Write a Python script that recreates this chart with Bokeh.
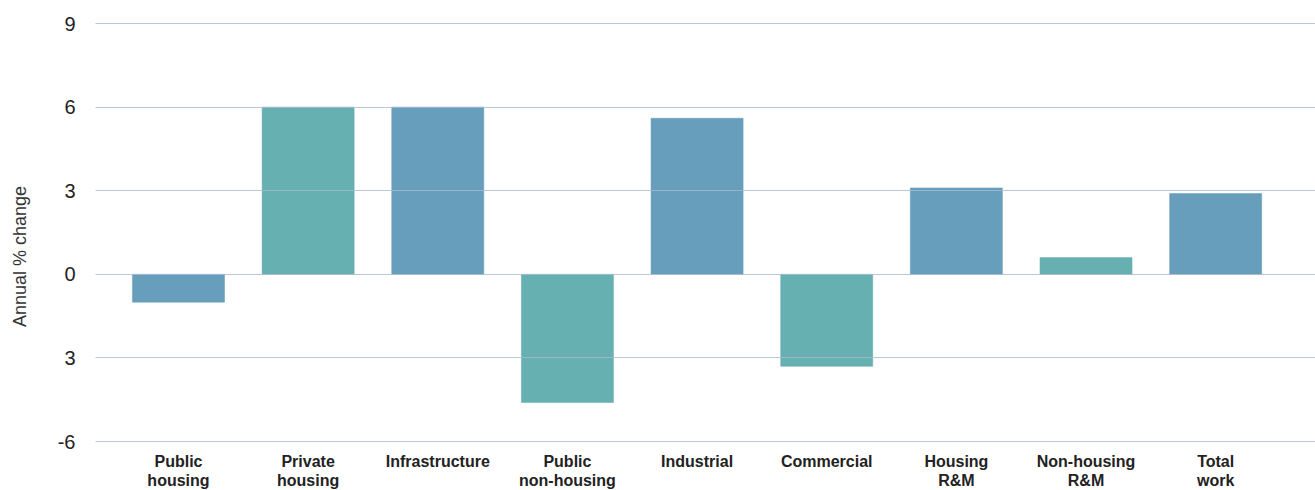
from bokeh.plotting import figure
from bokeh.models import Range1d, FixedTicker, ColumnDataSource, Label
from bokeh.embed import file_html
from bokeh.resources import INLINE

categories = ["Public\nhousing", "Private\nhousing", "Infrastructure", "Public\nnon-housing",
              "Industrial", "Commercial", "Housing\nR&M", "Non-housing\nR&M", "Total\nwork"]
values = [-1.0, 6.0, 6.0, -4.6, 5.6, -3.3, 3.1, 0.6, 2.9]
colors = ["#669ebb", "#67b0b1", "#669ebb", "#67b0b1", "#669ebb", "#67b0b1", "#669ebb", "#67b0b1", "#669ebb"]
y_ticks = [-6, -3, 0, 3, 6, 9]
y_tick_labels = ["-6", "3", "0", "3", "6", "9"]
y_title = "Annual % change"

idx = list(range(len(categories)))
src = ColumnDataSource(dict(x=idx, top=values, color=colors))

ppu_y = 27.87          # px per unit
frame_h = 468
x0, x1 = -0.64, 8.77
y1 = 9 + 1 / ppu_y
y0 = y1 - frame_h / ppu_y

p = figure(width=1315, height=490, output_backend="svg", toolbar_location=None,
           x_range=Range1d(x0, x1), y_range=Range1d(y0, y1),
           min_border_left=95, min_border_right=0, min_border_top=22, min_border_bottom=0)
p.outline_line_color = None
p.background_fill_color = "white"

p.vbar(x="x", top="top", bottom=0, width=0.71, source=src, fill_color="color",
       line_color="color", line_alpha=0.5, fill_alpha=1.0)

p.xgrid.visible = False
p.ygrid.ticker = FixedTicker(ticks=y_ticks)
p.ygrid.grid_line_color = "#a9b9cf"
p.ygrid.grid_line_width = 1.2
p.ygrid.level = "overlay"
p.ygrid.grid_line_alpha = 0.8

p.yaxis.ticker = FixedTicker(ticks=y_ticks)
p.yaxis.major_label_overrides = {t: l for t, l in zip(y_ticks, y_tick_labels)}
p.yaxis.axis_line_color = None
p.yaxis.major_tick_line_color = None
p.yaxis.minor_tick_line_color = None
p.yaxis.major_label_standoff = 14
p.yaxis.major_label_text_font = "Liberation Sans"
p.yaxis.major_label_text_font_size = "20px"
p.yaxis.major_label_text_color = "#222222"
p.yaxis.axis_label = y_title
p.yaxis.axis_label_text_font = "Liberation Sans"
p.yaxis.axis_label_text_font_style = "normal"
p.yaxis.axis_label_text_font_size = "18px"
p.yaxis.axis_label_text_color = "#333333"
p.yaxis.axis_label_standoff = 25

p.xaxis.visible = False

for i, c in zip(idx, categories):
    p.add_layout(Label(x=i, y=-6 - 11 / ppu_y, text=c, text_align="center", text_baseline="top",
                       text_font="Liberation Sans", text_font_style="bold",
                       text_font_size="16px", text_color="#222222", text_line_height=1.15))

open("out.html", "w").write(file_html(p, INLINE))
